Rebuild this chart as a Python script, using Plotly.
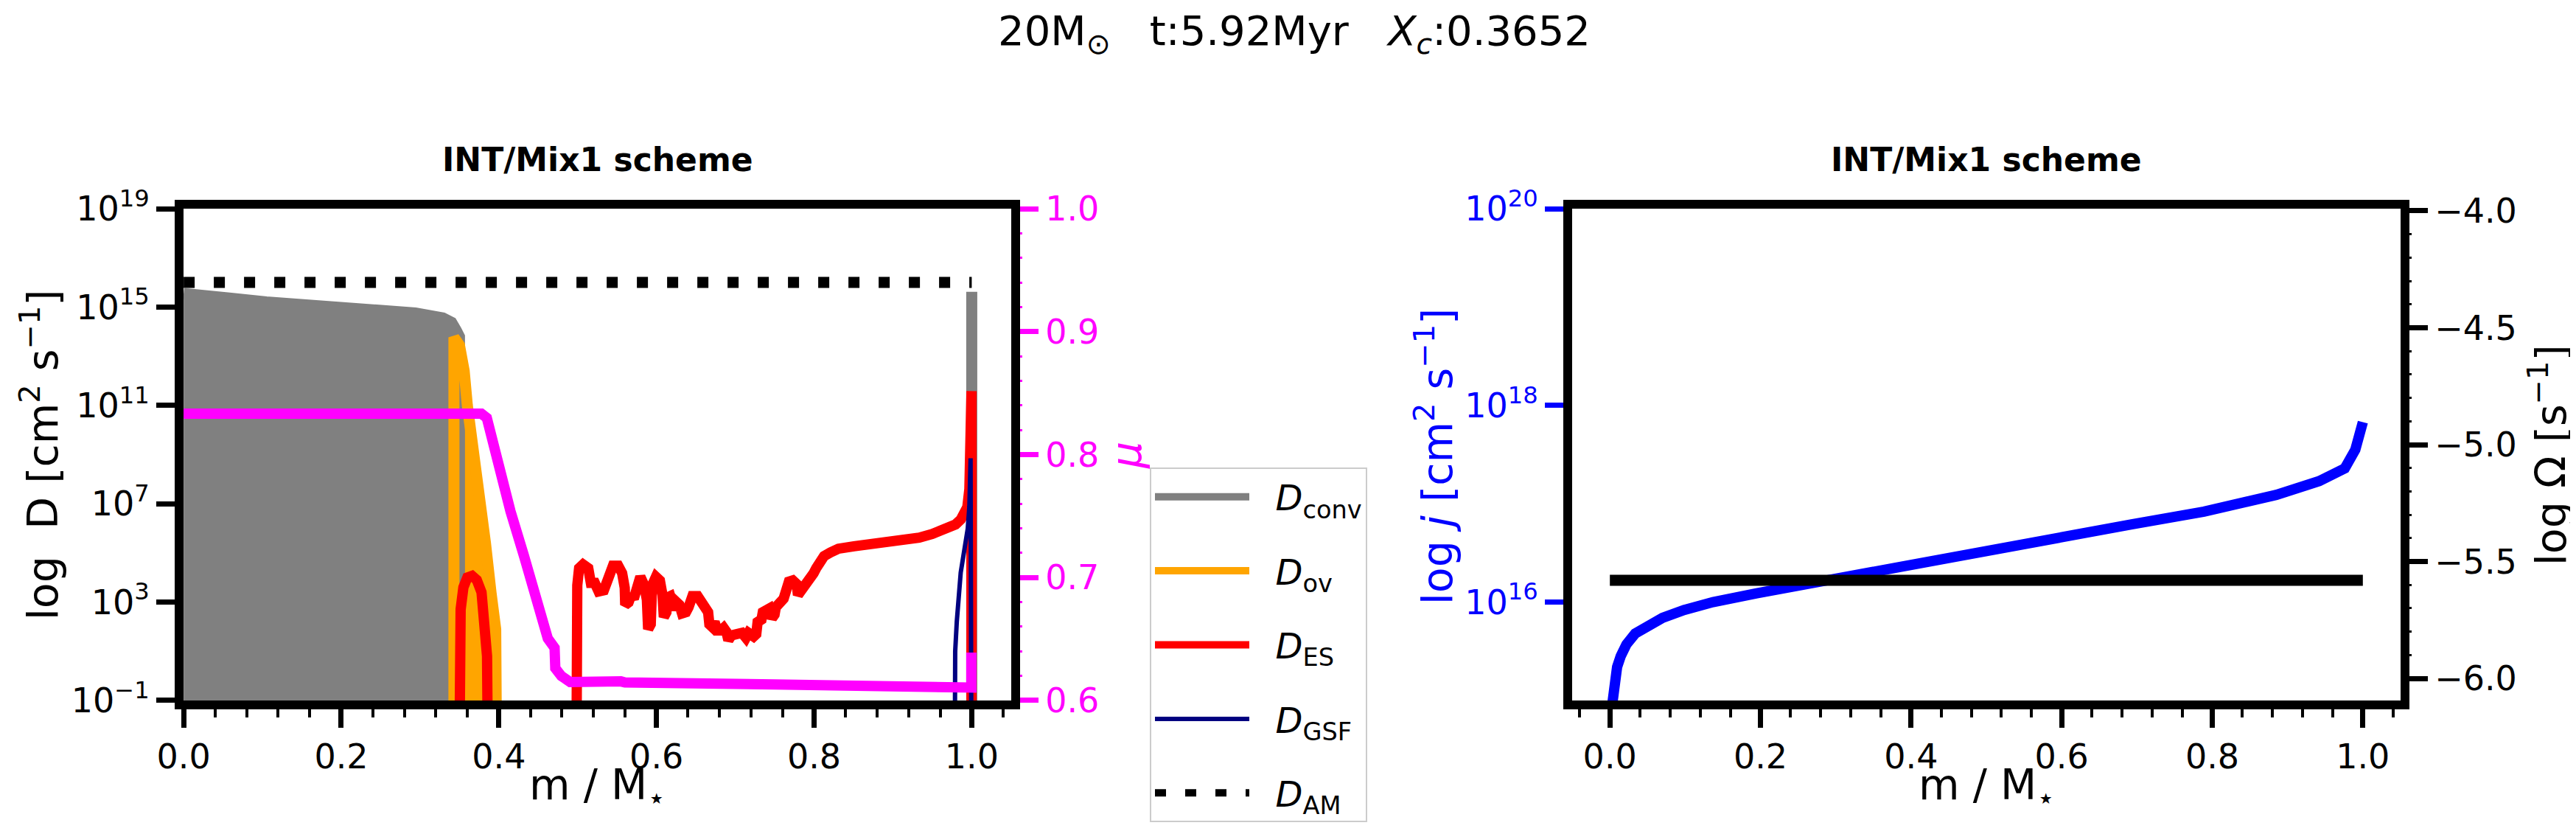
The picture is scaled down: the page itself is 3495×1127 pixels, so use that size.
import numpy as np
import plotly.graph_objects as go

W, H = 3495, 1127
FONT = "DejaVu Sans"
LW = 12  # spine width (px)

# ------------------------------------------------------------------ data
FLOOR = -3.0  # log10 value below the plotted range (profile drops to ~0)

# left panel: log10 diffusion coefficients vs m/M*
conv_core_x = [0.0, 0.006, 0.058, 0.105, 0.165, 0.251, 0.294, 0.329, 0.340, 0.346, 0.350]
conv_core_logD = [15.55, 15.52, 15.37, 15.21, 15.10, 14.91, 14.76, 14.56, 14.38, 14.05, 13.80]
conv_surf_x = [1.0, 1.0]
conv_surf_logD = [FLOOR, 15.62]

ov_x = [0.343, 0.343, 0.350, 0.356, 0.360, 0.366, 0.374, 0.383, 0.390, 0.396, 0.397]
ov_logD = [FLOOR, 13.77, 13.45, 12.40, 11.00, 9.70, 8.00, 5.40, 3.40, 1.90, FLOOR]

es_a_x = [0.350, 0.350, 0.3515, 0.355, 0.360, 0.366, 0.372, 0.378, 0.382, 0.385, 0.386]
es_a_logD = [FLOOR, 1.0, 2.7, 3.6, 4.0, 4.07, 3.9, 3.4, 2.3, 0.8, FLOOR]

es_b_x = [0.4985, 0.4985, 0.4995, 0.5018, 0.5068, 0.5134, 0.5167, 0.5217, 0.5266, 0.5332,
          0.5365, 0.5398, 0.5448, 0.5514, 0.5564, 0.5597, 0.5603, 0.5646, 0.5679, 0.5712,
          0.5745, 0.5795, 0.5845, 0.5878, 0.5894, 0.5927, 0.5944, 0.5993, 0.6043, 0.6076,
          0.6093, 0.6126, 0.6142, 0.6175, 0.6208, 0.6225, 0.6258, 0.6291, 0.6324, 0.6374,
          0.6407, 0.6423, 0.6456, 0.6522, 0.6572, 0.6605, 0.6622, 0.6655, 0.6671, 0.6704,
          0.6737, 0.6770, 0.6820, 0.6853, 0.6886, 0.6912, 0.6952, 0.7018, 0.7084, 0.7134,
          0.7167, 0.7233, 0.7266, 0.7283, 0.7332, 0.7349, 0.7398, 0.7432, 0.7465, 0.7498,
          0.7514, 0.7547, 0.7580, 0.7613, 0.7646, 0.7680, 0.7729, 0.7779, 0.7795, 0.7828,
          0.7878, 0.7927, 0.7960, 0.7994, 0.8027, 0.8060, 0.8126, 0.8208, 0.8308, 0.8506,
          0.8837, 0.9101, 0.9333, 0.9498, 0.9663, 0.9795, 0.9861, 0.9911, 0.9944, 0.9970,
          0.9990, 0.9997, 0.9997]
es_b_logD = [FLOOR, 2.0, 3.68, 4.38, 4.53, 4.38, 3.78, 3.78, 3.43, 3.48,
             3.78, 4.18, 4.48, 4.48, 4.18, 3.58, 2.89, 2.99, 3.29, 3.14,
             3.68, 4.03, 3.68, 3.09, 1.90, 2.10, 3.68, 4.03, 3.88, 3.29,
             2.39, 2.59, 3.19, 3.24, 2.89, 2.69, 2.99, 2.89, 2.54, 2.59,
             2.79, 3.14, 3.24, 3.24, 2.99, 2.94, 2.69, 2.59, 2.10, 2.00,
             2.19, 1.85, 1.85, 1.95, 1.80, 1.45, 1.65, 1.65, 1.75, 1.55,
             1.75, 1.60, 1.70, 2.19, 2.29, 2.59, 2.69, 2.74, 2.34, 2.49,
             2.79, 2.94, 3.04, 3.14, 3.48, 3.83, 3.88, 3.73, 3.29, 3.43,
             3.58, 3.78, 3.98, 4.18, 4.38, 4.63, 4.87, 5.02, 5.17, 5.27,
             5.37, 5.47, 5.62, 5.77, 5.96, 6.16, 6.36, 6.66, 6.86, 7.60,
             9.00, 11.58, FLOOR]

gsf_x = [0.9785, 0.9785, 0.9790, 0.9810, 0.9830, 0.9860, 0.9890, 0.9920, 0.9950, 0.9970, 0.9985, 0.9995]
gsf_logD = [FLOOR, 0.2, 1.0, 2.2, 3.3, 4.2, 4.8, 5.4, 6.0, 6.9, 8.85, FLOOR]

am_x = [0.0, 1.0]
am_D = [1.0e16, 1.0e16]

mu_x = [0.0, 0.3778, 0.3847, 0.3976, 0.4148, 0.4320, 0.4492, 0.4621, 0.4707, 0.4716,
        0.4793, 0.4905, 0.5550, 0.5600, 0.7500, 0.9000, 0.9995, 0.9995]
mu = [0.8333, 0.8333, 0.8298, 0.7964, 0.7538, 0.7173, 0.6777, 0.6504, 0.6428, 0.6262,
      0.6199, 0.6150, 0.6155, 0.6147, 0.6130, 0.6115, 0.6105, 0.6390]

# right panel: specific angular momentum and angular velocity
j_x = [0.003, 0.0058, 0.0096, 0.0144, 0.022, 0.0336, 0.0508, 0.070, 0.0988, 0.137,
       0.195, 0.291, 0.396, 0.501, 0.597, 0.693, 0.789, 0.885, 0.942, 0.976,
       0.990, 0.998, 1.0]
log_j = [14.95, 15.19, 15.34, 15.45, 15.57, 15.68, 15.77, 15.84, 15.92, 16.00,
         16.09, 16.23, 16.38, 16.53, 16.66, 16.79, 16.92, 17.09, 17.23, 17.36,
         17.55, 17.77, 17.83]
omega_x = [0.0, 1.0]
log_omega = [-5.58, -5.58]

# tick definitions
x_ticks = [0.0, 0.2, 0.4, 0.6, 0.8, 1.0]
x_tick_text = ["0.0", "0.2", "0.4", "0.6", "0.8", "1.0"]
logD_ticks = [-1, 3, 7, 11, 15, 19]
logD_tick_text = ["10<sup>\u22121</sup>", "10<sup>3</sup>", "10<sup>7</sup>",
                  "10<sup>11</sup>", "10<sup>15</sup>", "10<sup>19</sup>"]
mu_ticks = [0.6, 0.7, 0.8, 0.9, 1.0]
mu_tick_text = ["0.6", "0.7", "0.8", "0.9", "1.0"]
logj_ticks = [16, 18, 20]
logj_tick_text = ["10<sup>16</sup>", "10<sup>18</sup>", "10<sup>20</sup>"]
omega_ticks = [-6.0, -5.5, -5.0, -4.5, -4.0]
omega_tick_text = ["\u22126.0", "\u22125.5", "\u22125.0", "\u22124.5", "\u22124.0"]

LPAD = "\u00a0\u00a0"
legend_names = [LPAD + "<i>D</i><sub>conv</sub>", LPAD + "<i>D</i><sub>ov</sub>",
                LPAD + "<i>D</i><sub>ES</sub>", LPAD + "<i>D</i><sub>GSF</sub>",
                LPAD + "<i>D</i><sub>AM</sub>"]

suptitle = ("20M<sub>\u2299</sub>\u00a0\u00a0\u00a0t:5.92Myr\u00a0\u00a0\u00a0"
            "<i>X</i><sub><i>c</i></sub>:0.3652")
panel_title = "<b>INT/Mix1 scheme</b>"

# ------------------------------------------------------------------ helpers
def p10(a):
    return [None if v is None else float(10.0 ** v) for v in a]

# matplotlib-like axes boxes (spine centres, px)
LBOX = dict(L=238, R=1367, T=272, B=945)
RBOX = dict(L=2122, R=3252, T=272, B=945)
INSET = LW / 4

def xdom(box):
    return [(box["L"] + INSET) / W, (box["R"] - INSET) / W]

def ydom(box):
    return [1 - (box["B"] - INSET) / H, 1 - (box["T"] + INSET) / H]

def rng(a, b):
    e = (b - a) * 1e-4
    return [a - e, b + e]

# ------------------------------------------------------------------ traces
fig = go.Figure()
GRAY, ORANGE, RED, NAVY, MAG, BLUE = "#808080", "#FFA500", "#FF0000", "#000080", "#FF00FF", "#0000FF"

# fills
fx = [0.0] + conv_core_x + [conv_core_x[-1]]
fy = p10([FLOOR] + conv_core_logD + [FLOOR])
fig.add_trace(go.Scatter(x=fx, y=fy, mode="lines", fill="toself", fillcolor=GRAY,
                         line=dict(width=0, color=GRAY), showlegend=False, hoverinfo="skip",
                         xaxis="x", yaxis="y"))
fig.add_trace(go.Scatter(x=ov_x, y=p10(ov_logD), mode="lines", fill="toself", fillcolor=ORANGE,
                         line=dict(width=0, color=ORANGE), showlegend=False, hoverinfo="skip",
                         xaxis="x", yaxis="y"))

# lines
gx = conv_core_x + [conv_core_x[-1], None] + conv_surf_x
gy = conv_core_logD + [FLOOR, None] + conv_surf_logD
fig.add_trace(go.Scatter(x=gx, y=p10(gy), mode="lines", name=legend_names[0], legendgroup="g1",
                         line=dict(width=15, color=GRAY), xaxis="x", yaxis="y"))
fig.add_trace(go.Scatter(x=ov_x, y=p10(ov_logD), mode="lines", name=legend_names[1], legendgroup="g2",
                         line=dict(width=15, color=ORANGE), xaxis="x", yaxis="y"))
ex = es_a_x + [None] + es_b_x
ey = es_a_logD + [None] + es_b_logD
fig.add_trace(go.Scatter(x=ex, y=p10(ey), mode="lines", name=legend_names[2], legendgroup="g3",
                         line=dict(width=14, color=RED), xaxis="x", yaxis="y"))
fig.add_trace(go.Scatter(x=gsf_x, y=p10(gsf_logD), mode="lines", name=legend_names[3], legendgroup="g4",
                         line=dict(width=6, color=NAVY), xaxis="x", yaxis="y"))
fig.add_trace(go.Scatter(x=am_x, y=am_D, mode="lines", name=legend_names[4], legendgroup="g5",
                         line=dict(width=15, color="black", dash="15px,26px"), xaxis="x", yaxis="y"))
fig.add_trace(go.Scatter(x=mu_x, y=mu, mode="lines", showlegend=False,
                         line=dict(width=14, color=MAG), xaxis="x", yaxis="y2"))

# right panel
fig.add_trace(go.Scatter(x=j_x, y=p10(log_j), mode="lines", showlegend=False,
                         line=dict(width=14, color=BLUE), xaxis="x2", yaxis="y3"))
fig.add_trace(go.Scatter(x=omega_x, y=log_omega, mode="lines", showlegend=False,
                         line=dict(width=15, color="black"), xaxis="x2", yaxis="y4"))

# ------------------------------------------------------------------ axes
TICKFONT = dict(family=FONT, size=46, color="black")
base = dict(showline=True, linecolor="black", linewidth=LW, showgrid=False, zeroline=False,
            automargin=False,
            ticks="outside", ticklen=25, tickwidth=7, tickcolor="black", tickfont=TICKFONT)

xminor = dict(ticks="outside", ticklen=11, tickwidth=4, tickcolor="black", dtick=0.04, tick0=0.0,
              showgrid=False)

fig.update_layout(
    xaxis=dict(base, domain=xdom(LBOX), range=rng(0.0, 1.05), anchor="y", mirror=True,
               tickmode="array", tickvals=x_ticks, ticktext=x_tick_text, minor=xminor),
    yaxis=dict(base, domain=ydom(LBOX), type="log", range=rng(-1, 19), anchor="x", mirror=True,
               tickmode="array", tickvals=p10(logD_ticks), ticktext=logD_tick_text),
    yaxis2=dict(base, overlaying="y", side="right", anchor="x", range=rng(0.6, 1.0),
                tickmode="array", tickvals=mu_ticks, ticktext=mu_tick_text, tickcolor=MAG,
                tickfont=dict(family=FONT, size=46, color=MAG),
                minor=dict(ticks="outside", ticklen=3, tickwidth=3, tickcolor=MAG, dtick=0.02,
                           tick0=0.6, showgrid=False)),
    xaxis2=dict(base, domain=xdom(RBOX), range=rng(-0.05, 1.05), anchor="y3", mirror=True,
                tickmode="array", tickvals=x_ticks, ticktext=x_tick_text, minor=xminor),
    yaxis3=dict(base, domain=ydom(RBOX), type="log", range=rng(15, 20), anchor="x2", mirror=True,
                tickmode="array", tickvals=p10(logj_ticks), ticktext=logj_tick_text, tickcolor=BLUE,
                tickfont=dict(family=FONT, size=46, color=BLUE)),
    yaxis4=dict(base, overlaying="y3", side="right", anchor="x2", range=rng(-6.094, -3.991),
                tickmode="array", tickvals=omega_ticks, ticktext=omega_tick_text,
                minor=dict(ticks="outside", ticklen=3, tickwidth=3, tickcolor="black", dtick=0.1,
                           tick0=-6.0, showgrid=False)),
)

# ------------------------------------------------------------------ text
def ann(text, xpx, ypx, size, color="black", angle=0):
    return dict(text=text, x=xpx / W, y=1 - ypx / H, xref="paper", yref="paper",
                xanchor="center", yanchor="middle", showarrow=False, textangle=angle,
                font=dict(family=FONT, size=size, color=color))

lcx = (LBOX["L"] + LBOX["R"]) / 2
rcx = (RBOX["L"] + RBOX["R"]) / 2
annotations = [
    ann(suptitle, W / 2, 38, 56),
    ann(panel_title, lcx, 208, 44),
    ann(panel_title, rcx, 208, 44),
    ann("m / M<sub>\u22c6</sub>", lcx, 1060, 57),
    ann("m / M<sub>\u22c6</sub>", rcx, 1060, 57),
    ann("log\u00a0\u00a0D [cm<sup>2</sup>\u00a0s<sup>\u22121</sup>]", 46, 609, 57, angle=-90),
    ann("<i>\u03bc</i>", 1520, 610, 57, color=MAG, angle=-90),
    ann("log <i>j</i> [cm<sup>2</sup>\u00a0s<sup>\u22121</sup>]", 1938, 611, 57, color=BLUE, angle=-90),
    ann("log\u00a0\u03a9 [s<sup>\u22121</sup>]", 3449, 609, 57, angle=-90),
]

fig.update_layout(
    width=W, height=H, margin=dict(l=0, r=0, t=0, b=0, autoexpand=False),
    paper_bgcolor="white", plot_bgcolor="white",
    font=dict(family=FONT, color="black"),
    annotations=annotations,
    showlegend=True,
    legend=dict(x=1552 / W, y=1 - 626 / H, xanchor="left", yanchor="top",
                font=dict(family=FONT, size=48, color="black"),
                bordercolor="#cccccc", borderwidth=2, bgcolor="white",
                itemwidth=128, traceorder="grouped", tracegroupgap=35),
)

fig.write_html("out.html")
